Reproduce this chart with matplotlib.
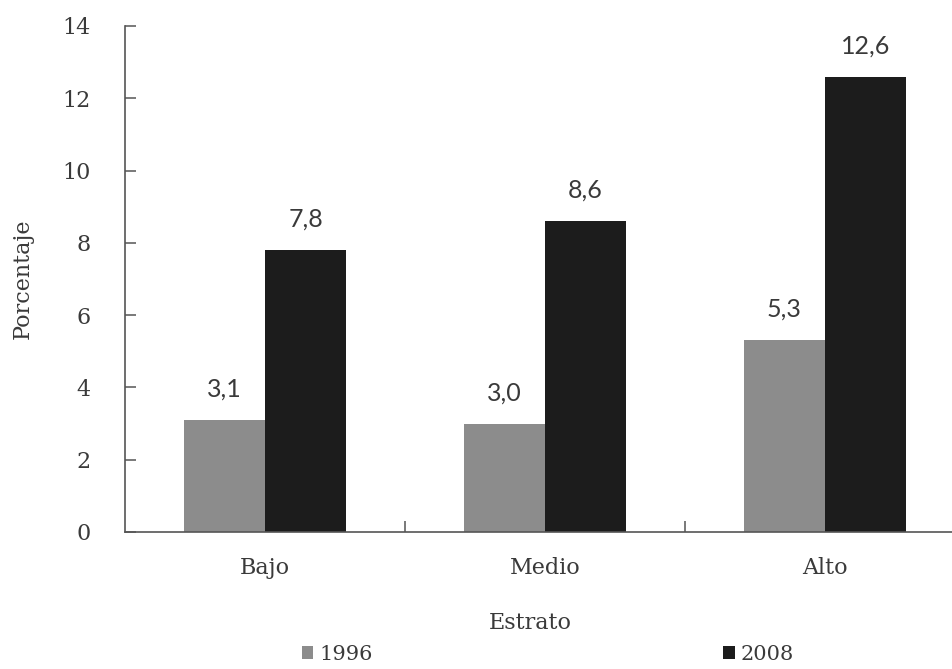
import numpy as np
import matplotlib.pyplot as plt

# Porcentaje por estrato, 1996 vs 2008
estratos = ["Bajo", "Medio", "Alto"]
anios = ["1996", "2008"]
valores_1996 = [3.1, 3.0, 5.3]
valores_2008 = [7.8, 8.6, 12.6]

plt.rcParams['font.family'] = ['DejaVu Serif']
color_txt = '#3a3a3a'

fig = plt.figure(figsize=(9.52, 6.69), dpi=100)
ax = fig.add_axes([125/952, 137/669, 840/952, 506/669])

x = np.arange(len(estratos))
ancho = 0.29
b1 = ax.bar(x - ancho/2, valores_1996, ancho, color='#8c8c8c', label=anios[0])
b2 = ax.bar(x + ancho/2, valores_2008, ancho, color='#1c1c1c', label=anios[1])

# etiquetas de valor con coma decimal
for barras, vals in ((b1, valores_1996), (b2, valores_2008)):
    for r, v in zip(barras, vals):
        ax.annotate(f"{v:.1f}".replace('.', ','), (r.get_x() + r.get_width()/2, v),
                    xytext=(0, 14), textcoords='offset points', ha='center', va='bottom',
                    fontsize=18, color=color_txt, family=['Lato', 'DejaVu Sans'])

ax.set_xlim(-0.5, 2.5)
ax.set_ylim(0, 14)
ax.set_yticks(np.arange(0, 15, 2))
ax.set_xticks(x)
ax.set_xticklabels(estratos)
ax.set_xticks([0.5, 1.5], minor=True)

for s in ('top', 'right'):
    ax.spines[s].set_visible(False)
for s in ('left', 'bottom'):
    ax.spines[s].set_color('#555555')
    ax.spines[s].set_linewidth(1.2)

ax.tick_params(axis='y', direction='in', length=8, width=1.1, color='#555555',
               pad=25, labelsize=16, labelcolor=color_txt)
ax.tick_params(axis='x', which='major', length=0, pad=18, labelsize=16, labelcolor=color_txt)
ax.tick_params(axis='x', which='minor', direction='in', length=8, width=1.1, color='#555555')

ax.set_ylabel("Porcentaje", fontsize=16, color=color_txt)
ax.yaxis.set_label_coords(-91/840, 0.5)
ax.set_xlabel("Estrato", fontsize=16, color=color_txt)
ax.xaxis.set_label_coords(405/840, -0.158)

fig.legend(handles=[b1, b2], loc='center', bbox_to_anchor=(548/952, 15/669), ncol=2,
           frameon=False, fontsize=15, handlelength=0.55, handleheight=0.6,
           handletextpad=0.3, columnspacing=16.8, labelcolor=color_txt)

fig.savefig("out.png", dpi=100)
